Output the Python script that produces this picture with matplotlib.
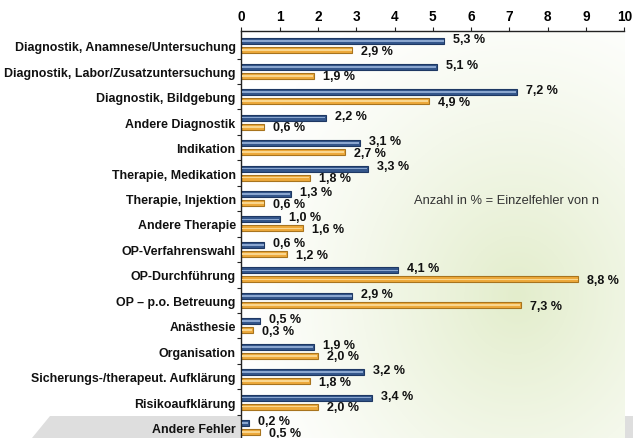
import numpy as np
import matplotlib
matplotlib.use("Agg")
import matplotlib.pyplot as plt
from matplotlib.patches import Polygon

# Daten (Anteil in %)
categories = [
    "Diagnostik, Anamnese/Untersuchung",
    "Diagnostik, Labor/Zusatzuntersuchung",
    "Diagnostik, Bildgebung",
    "Andere Diagnostik",
    "Indikation",
    "Therapie, Medikation",
    "Therapie, Injektion",
    "Andere Therapie",
    "OP-Verfahrenswahl",
    "OP-Durchführung",
    "OP – p.o. Betreuung",
    "Anästhesie",
    "Organisation",
    "Sicherungs-/therapeut. Aufklärung",
    "Risikoaufklärung",
    "Andere Fehler",
]
blue_vals = [5.3, 5.1, 7.2, 2.2, 3.1, 3.3, 1.3, 1.0, 0.6, 4.1, 2.9, 0.5, 1.9, 3.2, 3.4, 0.2]
orange_vals = [2.9, 1.9, 4.9, 0.6, 2.7, 1.8, 0.6, 1.6, 1.2, 8.8, 7.3, 0.3, 2.0, 1.8, 2.0, 0.5]
xticks = list(range(0, 11))

plt.rcParams['font.family'] = ['Liberation Sans', 'DejaVu Sans']

W, H = 633, 439
fig = plt.figure(figsize=(W / 100, H / 100), dpi=100)
fig.patch.set_facecolor("white")

# grauer Streifen unten (Hintergrund-Deko)
band = Polygon([(50 / W, 1 - 417 / H), (1.0, 1 - 417 / H), (1.0, 0.0), (32 / W, 0.0)],
               closed=True, transform=fig.transFigure, facecolor="#dedede",
               edgecolor="none", zorder=0)
fig.patches.append(band)

ax = fig.add_axes([241.3 / W, 0.0, 383 / W, (H - 32.3) / H])
ax.set_zorder(1)

# Hintergrundverlauf im Diagramm
gx, gy = np.meshgrid(np.linspace(0, 1, 200), np.linspace(0, 1, 200))
d = np.sqrt(((gx - 0.72) / 0.75) ** 2 + ((gy - 0.35) / 0.8) ** 2)
t = np.clip(1 - d, 0, 1) ** 1.2
c0 = np.array([1.0, 1.0, 1.0])
c1 = np.array([0.89, 0.93, 0.80])
img = c0 + (c1 - c0) * t[..., None]
ax.imshow(img, extent=(0, 1, 0, 1), transform=ax.transAxes, aspect="auto",
          origin="lower", zorder=0)

y = np.arange(len(categories))
off = 0.177
h = 0.236

ax.barh(y - off, blue_vals, height=h, color="#34568b", edgecolor="#1e3863",
        linewidth=0.8, zorder=2)
ax.barh(y - off, np.array(blue_vals) - 0.04, height=h * 0.28, left=0.02,
        color="#8aa6cf", linewidth=0, zorder=3)
ax.barh(y + off, orange_vals, height=h, color="#eda93b", edgecolor="#a8741e",
        linewidth=0.8, zorder=2)
ax.barh(y + off, np.array(orange_vals) - 0.04, height=h * 0.28, left=0.02,
        color="#f9d68e", linewidth=0, zorder=3)

def fmt(v):
    return f"{v:.1f}".replace(".", ",") + " %"

for i, v in enumerate(blue_vals):
    ax.annotate(fmt(v), (v, i - off), xytext=(6.5, 1.5), textcoords="offset points",
                ha="left", va="center", fontsize=9.0, fontweight="bold",
                color="#111111", zorder=4)
for i, v in enumerate(orange_vals):
    ax.annotate(fmt(v), (v, i + off), xytext=(6.5, -0.5), textcoords="offset points",
                ha="left", va="center", fontsize=9.0, fontweight="bold",
                color="#111111", zorder=4)

ax.set_xlim(0, 10)
ax.set_ylim(15.41, -0.57)
ax.xaxis.tick_top()
ax.set_xticks(xticks)
ax.set_xticklabels([str(x) for x in xticks], fontsize=9.8, fontweight="bold")
ax.tick_params(axis="x", direction="out", length=3, width=0.8, pad=3, color="#222222")

ax.set_yticks(y)
ax.set_yticklabels(categories, fontsize=8.9, fontweight="bold", color="#111111")
ax.tick_params(axis="y", which="major", length=0, pad=4)
ax.set_yticks(np.arange(0.5, len(categories) - 0.5), minor=True)
ax.tick_params(axis="y", which="minor", length=3, width=0.8, color="#222222")

for s in ["right", "bottom"]:
    ax.spines[s].set_visible(False)
for s in ["left", "top"]:
    ax.spines[s].set_color("#222222")
    ax.spines[s].set_linewidth(1.0)

fig.text(414 / W, 1 - 201 / H, "Anzahl in % = Einzelfehler von n", fontsize=9.3,
         color="#333333", ha="left", va="center", zorder=5)

fig.savefig("out.png", dpi=100)
